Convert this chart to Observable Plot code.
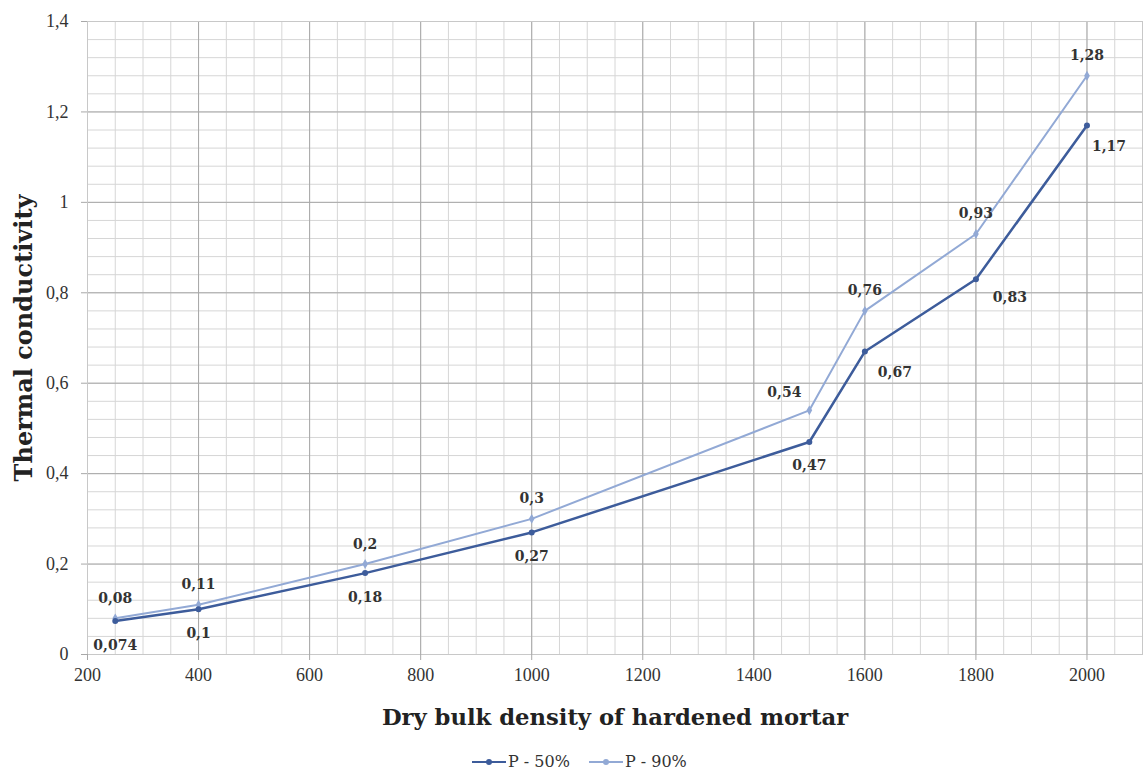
<!DOCTYPE html>
<html>
<head>
<meta charset="utf-8">
<script src="https://cdn.jsdelivr.net/npm/d3@7"></script>
<script src="https://cdn.jsdelivr.net/npm/@observablehq/plot@0.6"></script>
<style>
  html, body { margin: 0; padding: 0; background: #fff; }
  #chart { width: 1147px; height: 735px; }
  #chart svg g[aria-label$="tick label"] text { font-family: "Liberation Serif", serif; font-size: 18px; }
  .legend { position: absolute; left: 472px; top: 752px; display: flex; gap: 19px; font-family: "DejaVu Serif", serif; font-size: 16px; color: #333; line-height: 20px; }
  .legend span { display: inline-flex; align-items: center; gap: 2px; }
  .sw { position: relative; width: 34px; height: 2px; display: inline-block; }
  .sw i { position: absolute; left: 14px; top: -2px; width: 6px; height: 6px; border-radius: 50%; }
</style>
</head>
<body>
<div id="chart"></div>
<script>
const density = [250, 400, 700, 1000, 1500, 1600, 1800, 2000];
const p50 = [0.074, 0.1, 0.18, 0.27, 0.47, 0.67, 0.83, 1.17];
const p90 = [0.08, 0.11, 0.2, 0.3, 0.54, 0.76, 0.93, 1.28];
const p50Labels = ["0,074", "0,1", "0,18", "0,27", "0,47", "0,67", "0,83", "1,17"];
const p90Labels = ["0,08", "0,11", "0,2", "0,3", "0,54", "0,76", "0,93", "1,28"];
const xTicks = [200, 400, 600, 800, 1000, 1200, 1400, 1600, 1800, 2000];
const yTicks = [0, 0.2, 0.4, 0.6, 0.8, 1, 1.2, 1.4];
const yTickLabels = ["0", "0,2", "0,4", "0,6", "0,8", "1", "1,2", "1,4"];
const seriesNames = ["P - 50%", "P - 90%"];

const c50 = "#3d5c9b";
const c90 = "#92a9d5";
const serif = "Liberation Serif";
const wide = "DejaVu Serif";

const rows50 = density.map((d, i) => ({x: d, y: p50[i], label: p50Labels[i], i}));
const rows90 = density.map((d, i) => ({x: d, y: p90[i], label: p90Labels[i], i}));

const xMinor = d3.range(200, 2101, 50);
const yMinor = d3.range(0, 1.4001, 0.04);

const labelStyle = {fontFamily: wide, fontSize: 14, fontWeight: "bold", fill: "#333"};
const yFmt = d => yTickLabels[yTicks.indexOf(d)] ?? "";

const chart = Plot.plot({
  width: 1147,
  height: 735,
  marginLeft: 87,
  marginTop: 21,
  marginRight: 5,
  marginBottom: 81,
  style: {fontFamily: serif, color: "#333", background: "#fff"},
  x: {domain: [200, 2100], label: null},
  y: {domain: [0, 1.4], label: null},
  marks: [
    Plot.ruleX(xMinor, {stroke: "#d6d6d6", strokeWidth: 1}),
    Plot.ruleY(yMinor, {stroke: "#d6d6d6", strokeWidth: 1}),
    Plot.ruleX(xTicks, {stroke: "#a8a8a8", strokeWidth: 1}),
    Plot.ruleY(yTicks, {stroke: "#a8a8a8", strokeWidth: 1}),
    Plot.frame({stroke: "#c8c8c8"}),
    Plot.axisX({ticks: xTicks, tickSize: 6, tickPadding: 8, stroke: "#a8a8a8", fill: "#333", fontFamily: serif, fontSize: 18, tickFormat: d => String(d), label: null}),
    Plot.axisY({ticks: yTicks, tickSize: 6, tickPadding: 13, stroke: "#a8a8a8", fill: "#333", fontFamily: serif, fontSize: 18, tickFormat: yFmt, label: null}),
    Plot.line(rows90, {x: "x", y: "y", stroke: c90, strokeWidth: 2}),
    Plot.line(rows50, {x: "x", y: "y", stroke: c50, strokeWidth: 2.5}),
    Plot.dot(rows90, {x: "x", y: "y", fill: c90, r: 3, symbol: "diamond"}),
    Plot.dot(rows50, {x: "x", y: "y", fill: c50, r: 3}),
    // P-50 labels: below, last three below-right
    Plot.text(rows50.filter(d => d.i < 5), {x: "x", y: "y", text: "label", dy: 24, ...labelStyle}),
    Plot.text(rows50.filter(d => d.i === 5), {x: "x", y: "y", text: "label", dx: 30, dy: 21, ...labelStyle}),
    Plot.text(rows50.filter(d => d.i === 6), {x: "x", y: "y", text: "label", dx: 34, dy: 18, ...labelStyle}),
    Plot.text(rows50.filter(d => d.i === 7), {x: "x", y: "y", text: "label", dx: 22, dy: 21, ...labelStyle}),
    // P-90 labels: above, 1500 above-left
    Plot.text(rows90.filter(d => d.i !== 4), {x: "x", y: "y", text: "label", dy: -20, ...labelStyle}),
    Plot.text(rows90.filter(d => d.i === 4), {x: "x", y: "y", text: "label", dx: -25, dy: -18, ...labelStyle}),
    // axis titles
    Plot.text(["Dry bulk density of hardened mortar"], {frameAnchor: "bottom", lineAnchor: "middle", dy: 63, fontFamily: wide, fontSize: 22.7, fontWeight: "bold", fill: "#222"}),
    Plot.text(["Thermal conductivity"], {frameAnchor: "left", textAnchor: "middle", lineAnchor: "middle", rotate: -90, dx: -63, fontFamily: wide, fontSize: 24, fontWeight: "bold", fill: "#222"})
  ]
});
document.getElementById("chart").appendChild(chart);

const legend = document.createElement("div");
legend.className = "legend";
[[seriesNames[0], c50], [seriesNames[1], c90]].forEach(([name, col]) => {
  const s = document.createElement("span");
  s.innerHTML = `<span class="sw" style="background:${col}"><i style="background:${col}"></i></span>${name}`;
  legend.appendChild(s);
});
document.body.appendChild(legend);
</script>
</body>
</html>
